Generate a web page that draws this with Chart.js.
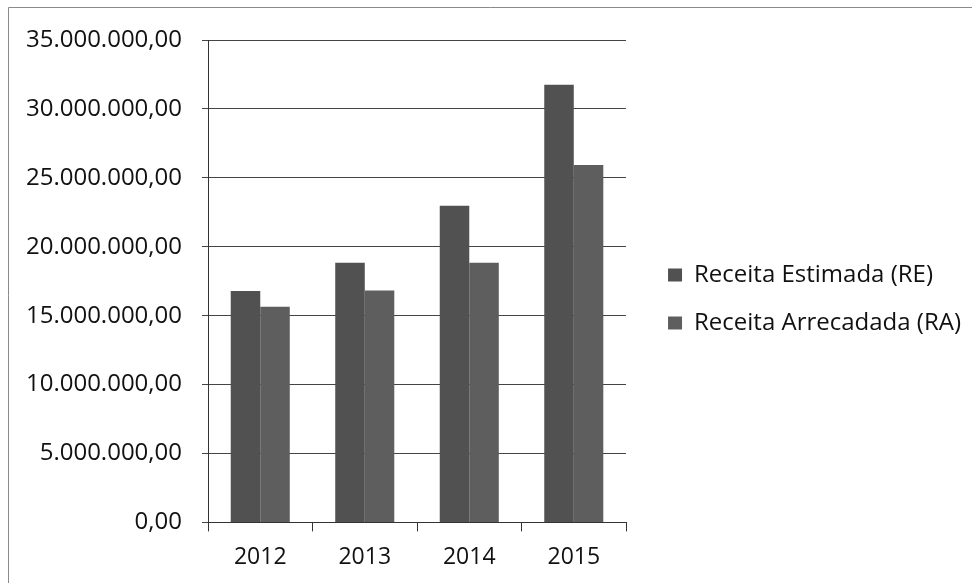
<!DOCTYPE html>
<html>
<head>
<meta charset="utf-8">
<script src="https://cdn.jsdelivr.net/npm/chart.js@4"></script>
<style>
  html, body { margin: 0; padding: 0; background: #fff; }
  #wrap { width: 972px; height: 583px; }
</style>
</head>
<body>
<div id="wrap"><canvas id="myChart" width="972" height="583"></canvas></div>
<script>
// dados
var anos = ['2012', '2013', '2014', '2015'];
var receitaEstimada = [16780000, 18840000, 22970000, 31750000];
var receitaArrecadada = [15640000, 16830000, 18840000, 25930000];
var nomes = ['Receita Estimada (RE)', 'Receita Arrecadada (RA)'];

function formata(v) {
	var s = Math.round(v).toString().replace(/\B(?=(\d{3})+(?!\d))/g, '.');
	return s + ',00';
}

// moldura do scan (linha de cima e da esquerda)
var moldura = {
	id: 'moldura',
	afterDraw: function(chart) {
		var c = chart.ctx;
		c.save();
		c.strokeStyle = '#8a8a8a';
		c.lineWidth = 1;
		c.beginPath();
		c.moveTo(8.5, 583);
		c.lineTo(8.5, 7.5);
		c.lineTo(972, 7.5);
		c.stroke();
		c.restore();
	}
};

Chart.defaults.font.family = "'Open Sans', sans-serif";
Chart.defaults.color = '#111';

var chartdata = {
	labels: anos,
	datasets: [
		{
			label: nomes[0],
			backgroundColor: '#515151',
			data: receitaEstimada,
			categoryPercentage: 0.565,
			barPercentage: 1
		},
		{
			label: nomes[1],
			backgroundColor: '#5e5e5e',
			data: receitaArrecadada,
			categoryPercentage: 0.565,
			barPercentage: 1
		}
	]
};

var ctx = document.getElementById('myChart');
var grafico = new Chart(ctx, {
	type: 'bar',
	data: chartdata,
	plugins: [moldura],
	options: {
		responsive: false,
		animation: false,
		layout: { padding: { top: 15, left: 20, right: 1, bottom: 0 } },
		plugins: {
			tooltip: { enabled: false },
			// titulo vazio so para empurrar a area do grafico
			title: {
				display: true,
				text: '',
				font: { size: 10 },
				padding: { top: 0, bottom: 13 }
			},
			legend: {
				position: 'right',
				maxWidth: 400,
				labels: {
					boxWidth: 14,
					boxHeight: 13,
					padding: 24,
					color: '#111',
					font: { size: 24 }
				}
			}
		},
		scales: {
			x: {
				grid: {
					display: true,
					drawOnChartArea: false,
					offset: true,
					tickLength: 9,
					color: '#333'
				},
				border: { color: '#333', width: 1 },
				ticks: { padding: 12, font: { size: 23 }, color: '#111' }
			},
			y: {
				min: 0,
				max: 35000000,
				grid: { color: '#444', lineWidth: 1, tickLength: 6 },
				border: { color: '#333', width: 1 },
				ticks: {
					stepSize: 5000000,
					padding: 20,
					font: { size: 24 },
					color: '#111',
					callback: function(v) { return formata(v); }
				},
				afterFit: function(s) { s.width = 188; }
			},
			espaco: {
				position: 'right',
				display: true,
				grid: { display: false },
				border: { display: false },
				ticks: { display: false },
				afterFit: function(s) { s.width = 18; }
			}
		}
	}
});
</script>
</body>
</html>
